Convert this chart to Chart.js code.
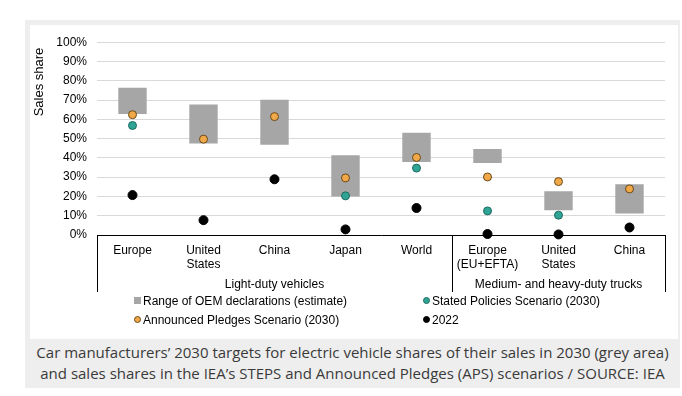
<!DOCTYPE html>
<html>
<head>
<meta charset="utf-8">
<script src="https://cdn.jsdelivr.net/npm/chart.js@4.4.0/dist/chart.umd.min.js"></script>
<style>
  body { margin: 0; background: #fff; width: 682px; height: 396px; position: relative; overflow: hidden; }
  #frame { position: absolute; left: 25px; top: 20px; width: 655px; height: 368px; background: #eeeeee; }
  #panel { position: absolute; left: 5px; top: 5px; width: 648px; height: 314px; background: #fff; }
  #chart-wrap { position: absolute; left: 0; top: 0; width: 648px; height: 270px; }
  .legend { position: absolute; font: 12px "Liberation Sans", Arial, sans-serif; color: #000; white-space: nowrap; }
  .legend span.mk { display: inline-block; vertical-align: middle; margin-right: 2px; position: relative; top: -1px; }
  .sq { width: 7px; height: 7px; background: #a6a6a6; }
  .dot { width: 5px; height: 5px; border-radius: 50%; border: 1px solid; }
  #caption { position: absolute; left: 0; top: 322px; width: 655px; text-align: center;
    font: 15px "Open Sans", sans-serif; color: #3a3a3a; line-height: 21px; }
</style>
</head>
<body>
<div id="frame">
  <div id="panel">
    <div id="chart-wrap"><canvas id="chart" width="648" height="270"></canvas></div>
    <div class="legend" style="left:104px; top:269px;"><span class="mk sq"></span>Range of OEM declarations (estimate)</div>
    <div class="legend" style="left:393px; top:269px;"><span class="mk dot" style="background:#2fa394;border-color:#1e6b62"></span>Stated Policies Scenario (2030)</div>
    <div class="legend" style="left:104px; top:288px;"><span class="mk dot" style="background:#f0a848;border-color:#6b4a1a"></span>Announced Pledges Scenario (2030)</div>
    <div class="legend" style="left:393px; top:288px;"><span class="mk dot" style="background:#000;border-color:#000"></span>2022</div>
  </div>
  <div id="caption">Car manufacturers’ 2030 targets for electric vehicle shares of their sales in 2030 (grey area)<br>and sales shares in the IEA’s STEPS and Announced Pledges (APS) scenarios / SOURCE: IEA</div>
</div>

<script>
const categories = [['Europe'], ['United', 'States'], ['China'], ['Japan'], ['World'],
  ['Europe', '(EU+EFTA)'], ['United', 'States'], ['China']];
const groups = ['Light-duty vehicles', 'Medium- and heavy-duty trucks'];
const groupStart = [0, 5];

const oemLow = [62.7, 47.5, 46.8, 20.0, 37.9, 37.3, 12.8, 11.1];
const oemHigh = [76.4, 67.7, 70.1, 41.4, 53.0, 44.6, 22.7, 26.3];
const steps = [56.8, null, null, 20.3, 34.7, 12.5, 10.3, null];
const aps = [62.4, 49.7, 61.4, 29.6, 40.2, 30.1, 27.7, 23.9];
const y2022 = [20.7, 7.7, 28.9, 2.9, 14.0, 0.5, 0.3, 3.9];

const FONT = '"Liberation Sans", Arial, sans-serif';

// box under the x axis, group labels and the rotated y title
const boxPlugin = {
  id: 'groupBox',
  afterDraw(chart) {
    const { ctx, chartArea, scales } = chart;
    const x = scales.x;
    const bottom = chartArea.bottom + 57;
    const edges = [chartArea.left];
    for (let g = 1; g < groupStart.length; g++) {
      const i = groupStart[g];
      edges.push((x.getPixelForTick(i - 1) + x.getPixelForTick(i)) / 2);
    }
    edges.push(chartArea.right);

    ctx.save();
    ctx.strokeStyle = '#000';
    ctx.lineWidth = 1;
    edges.forEach(px => {
      ctx.beginPath();
      ctx.moveTo(Math.round(px) + 0.5, chartArea.bottom);
      ctx.lineTo(Math.round(px) + 0.5, bottom);
      ctx.stroke();
    });

    ctx.fillStyle = '#000';
    ctx.font = '12px ' + FONT;
    ctx.textAlign = 'center';
    ctx.textBaseline = 'middle';
    groups.forEach((name, g) => {
      ctx.fillText(name, (edges[g] + edges[g + 1]) / 2, chartArea.bottom + 50);
    });

    ctx.translate(9, 57);
    ctx.rotate(-Math.PI / 2);
    ctx.font = '13px ' + FONT;
    ctx.fillText('Sales share', 0, 0);
    ctx.restore();
  }
};

const pointSet = (label, data, fill, border, r, order) => ({
  type: 'line',
  label,
  data,
  showLine: false,
  backgroundColor: fill,
  borderColor: border,
  borderWidth: 1,
  pointRadius: r,
  pointHoverRadius: r,
  clip: false,
  order
});

new Chart(document.getElementById('chart'), {
  type: 'bar',
  data: {
    labels: categories,
    datasets: [
      {
        label: 'Range of OEM declarations (estimate)',
        data: oemLow.map((lo, i) => [lo, oemHigh[i]]),
        backgroundColor: '#a6a6a6',
        borderWidth: 0,
        categoryPercentage: 1,
        barPercentage: 0.4,
        order: 4
      },
      pointSet('Stated Policies Scenario (2030)', steps, '#2fa394', '#1e6b62', 4, 3),
      pointSet('Announced Pledges Scenario (2030)', aps, '#f0a848', '#6b4a1a', 4, 2),
      pointSet('2022', y2022, '#000', '#000', 4.5, 1)
    ]
  },
  options: {
    responsive: false,
    animation: false,
    events: [],
    layout: { padding: { top: 8, right: 13, left: 0, bottom: 0 } },
    plugins: { legend: { display: false }, tooltip: { enabled: false } },
    scales: {
      x: {
        grid: { display: false, drawTicks: false },
        border: { display: true, color: '#000', width: 1 },
        ticks: { color: '#000', font: { family: FONT, size: 12 }, padding: 8, maxRotation: 0, autoSkip: false },
        afterFit(scale) { scale.height = 60; }
      },
      y: {
        min: 0,
        max: 100,
        ticks: { stepSize: 10, color: '#000', font: { family: FONT, size: 12 }, padding: 10,
          callback: v => v + '%' },
        grid: { color: '#d9d9d9', drawTicks: false },
        border: { display: false },
        afterFit(scale) { scale.width = 67; }
      }
    }
  },
  plugins: [boxPlugin]
});
</script>
</body>
</html>
